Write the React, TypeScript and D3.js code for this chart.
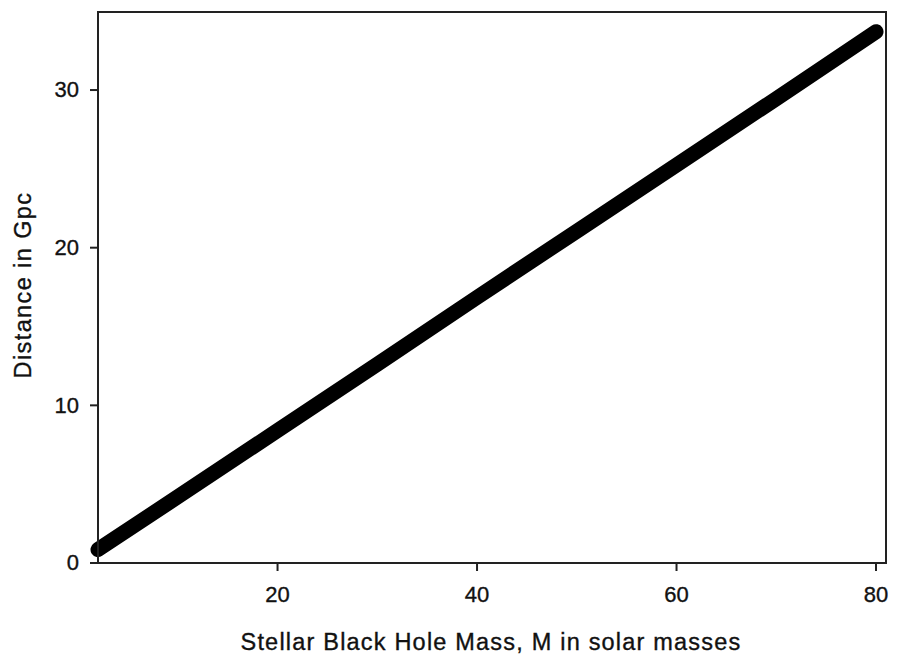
import React from 'react';
import * as d3 from 'd3';

// values (mass in solar masses, distance in Gpc)
const masses = [2, 10, 20, 30, 40, 50, 60, 70, 80];
const distances = [0.85, 4.2, 8.4, 12.6, 16.85, 21.05, 25.25, 29.45, 33.7];
const xTicks = [20, 40, 60, 80];
const yTicks = [0, 10, 20, 30];

const svgWidth = 899, svgHeight = 654;
const margin = { top: 12, right: 13, bottom: 91, left: 98 };
const width = svgWidth - margin.left - margin.right;
const height = svgHeight - margin.top - margin.bottom;

const font = '"Liberation Sans", Arial, sans-serif';
const ink = '#111';

const App = () => {
  const xScale = d3.scaleLinear().domain([2, 81]).range([0, width]);
  const yScale = d3.scaleLinear().domain([0, 34.95]).range([height, 0]);

  const line = d3.line<number>()
    .x((d, i) => xScale(masses[i]))
    .y(d => yScale(d));

  return <svg width={svgWidth} height={svgHeight}
    style={{ position: 'absolute', left: 0, top: 0, background: '#fff' }}>
    <g transform={`translate(${margin.left}, ${margin.top})`}>
      {/* data line */}
      <path
        d={line(distances) || ''}
        fill='none'
        stroke='#000'
        strokeWidth={15}
        strokeLinecap='round'
        strokeLinejoin='round'
      />
      {/* frame */}
      <rect x={0} y={0} width={width} height={height}
        fill='none' stroke='#222' strokeWidth={2} />
      {/* x axis */}
      {xTicks.map(x => <g key={x}>
        <line x1={xScale(x)} x2={xScale(x)} y1={height} y2={height + 8}
          stroke='#222' strokeWidth={2} />
        <text x={xScale(x)} y={height + 39} textAnchor='middle'
          fontFamily={font} fontSize={22} fill={ink}
          stroke={ink} strokeWidth={0.35}>{x}</text>
      </g>)}
      {/* y axis */}
      {yTicks.map(y => <g key={y}>
        <line x1={-8} x2={0} y1={yScale(y)} y2={yScale(y)}
          stroke='#222' strokeWidth={2} />
        <text x={-19} y={yScale(y)} dy='0.33em' textAnchor='end'
          fontFamily={font} fontSize={22} fill={ink}
          stroke={ink} strokeWidth={0.35}>{y}</text>
      </g>)}
    </g>
    <text x={491} y={650} textAnchor='middle' fontFamily={font}
      fontSize={23.5} letterSpacing={1.2} fill={ink}
      stroke={ink} strokeWidth={0.35}>Stellar Black Hole Mass, M in solar masses</text>
    <text transform={`translate(31, 285) rotate(-90)`} textAnchor='middle'
      fontFamily={font} fontSize={23.5} letterSpacing={1.4} fill={ink}
      stroke={ink} strokeWidth={0.35}>Distance in Gpc</text>
  </svg>;
};

export default App;
